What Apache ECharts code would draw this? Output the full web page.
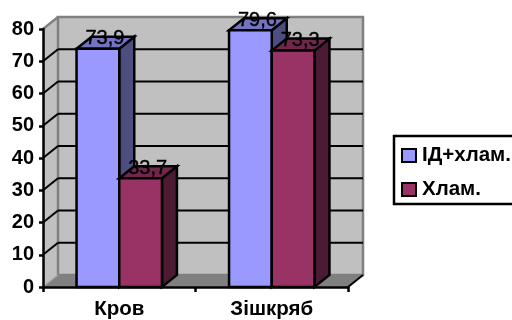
<!DOCTYPE html>
<html>
<head>
<meta charset="utf-8">
<script src="https://cdn.jsdelivr.net/npm/echarts@6/dist/echarts.min.js"></script>
<style>html,body{margin:0;padding:0;background:#fff;overflow:hidden}#c{width:512px;height:320px}</style>
</head>
<body>
<div id="c"></div>
<script>
const categories = ['Кров', 'Зішкряб'];
const seriesNames = ['ІД+хлам.', 'Хлам.'];
const idValues = [73.9, 79.6];
const junkValues = [33.7, 73.3];
const valueLabels = [['73,9', '79,6'], ['33,7', '73,3']];
const yTicks = [0, 10, 20, 30, 40, 50, 60, 70, 80];

// Faux-3D depth of the box and of each column, in pixels
const DX = 15, DY = -12;
const FONT = '"Liberation Sans", Arial, sans-serif';

function poly(points, fill, stroke, lineWidth) {
  return { type: 'polygon', shape: { points },
    style: { fill, stroke: stroke || null, lineWidth: lineWidth || 0 } };
}
function line(x1, y1, x2, y2, stroke, lineWidth) {
  return { type: 'line', shape: { x1, y1, x2, y2 }, style: { stroke, lineWidth } };
}

// Back wall, side wall, floor and the gridlines that run round them
function renderWalls(params, api) {
  const v = api.value(1);
  const cs = params.coordSys;
  const y = api.coord([0, v])[1];
  const x0 = cs.x, x1 = cs.x + cs.width, top = cs.y, bottom = cs.y + cs.height;
  const children = [];
  if (v === 0) {
    children.push(poly([[x0, top], [x0 + DX, top + DY], [x0 + DX, bottom + DY], [x0, bottom]], '#c0c0c0'));
    children.push(poly([[x0 + DX, top + DY], [x1 + DX, top + DY], [x1 + DX, bottom + DY], [x0 + DX, bottom + DY]], '#c0c0c0', '#808080', 2.5));
    children.push(poly([[x0, bottom], [x0 + DX, bottom + DY], [x1 + DX, bottom + DY], [x1, bottom]], '#808080'));
    children.push(line(x0, top, x0 + DX, top + DY, '#808080', 2.5));
    children.push(line(x0, bottom, x0 + DX, bottom + DY, '#a0a0a0', 1.5));
    children.push(line(x1, bottom, x1 + DX, bottom + DY, '#000', 2));
  } else if (v < 80) {
    children.push(line(x0, y, x0 + DX, y + DY, '#000', 2));
    children.push(line(x0 + DX, y + DY, x1 + DX, y + DY, '#000', 2));
  }
  return { type: 'group', children };
}

// One column: front face, lit top, shaded side, and its value text
function columnRenderer(offsetSign, front, topFace, side, labels) {
  return function (params, api) {
    const cat = api.value(0), val = api.value(1);
    const p = api.coord([cat, val]);
    const base = api.coord([cat, 0]);
    const w = api.size([1, 0])[0] * 0.28;
    const l = offsetSign < 0 ? p[0] - w : p[0];
    const r = l + w, t = p[1], b = base[1];
    const edge = '#000';
    return {
      type: 'group',
      children: [
        poly([[r, t], [r + DX, t + DY], [r + DX, b + DY], [r, b]], side, edge, 2.5),
        poly([[l, t], [l + DX, t + DY], [r + DX, t + DY], [r, t]], topFace, edge, 2.5),
        { type: 'rect', shape: { x: l, y: t, width: w, height: b - t },
          style: { fill: front, stroke: edge, lineWidth: 2.5 } },
        { type: 'text', z2: 50,
          style: { text: labels[params.dataIndex], x: (l + r) / 2 + 7, y: t - 10,
            align: 'center', verticalAlign: 'middle', fill: '#000',
            stroke: '#000', lineWidth: 0.4,
            font: '20px ' + FONT } }
      ]
    };
  };
}

const chart = echarts.init(document.getElementById('c'), null, { renderer: 'canvas' });
chart.setOption({
  animation: false,
  backgroundColor: '#fff',
  grid: { left: 43, top: 29, width: 305, height: 259 },
  legend: {
    data: seriesNames,
    orient: 'vertical',
    left: 394,
    top: 136,
    padding: [9, 20, 4, 7],
    itemGap: 13,
    itemWidth: 14,
    itemHeight: 13,
    borderColor: '#000',
    borderWidth: 2.5,
    backgroundColor: '#fff',
    selectedMode: false,
    icon: 'rect',
    textStyle: { fontFamily: FONT, fontWeight: 'bold', fontSize: 20.5, color: '#000', padding: [0, 0, 0, 1] }
  },
  xAxis: {
    type: 'category',
    data: categories,
    z: 10,
    axisLine: { lineStyle: { color: '#000', width: 2.5 } },
    axisTick: { show: true, length: 5, lineStyle: { color: '#000', width: 2.5 } },
    axisLabel: { color: '#000', fontFamily: FONT, fontWeight: 'bold', fontSize: 20.5, margin: 12 }
  },
  yAxis: {
    type: 'value',
    min: 0,
    max: 80,
    interval: 10,
    z: 10,
    splitLine: { show: false },
    axisLine: { show: true, lineStyle: { color: '#000', width: 2.5 } },
    axisTick: { show: true, length: 4, lineStyle: { color: '#000', width: 2.5 } },
    axisLabel: { color: '#000', fontFamily: FONT, fontWeight: 'bold', fontSize: 20, margin: 9 }
  },
  series: [
    {
      name: 'walls', type: 'custom', z: 1, silent: true,
      renderItem: renderWalls,
      encode: { x: 0, y: 1 },
      data: yTicks.map(t => [0, t])
    },
    {
      name: seriesNames[0], type: 'custom', z: 2, silent: true,
      itemStyle: { color: '#9999ff', borderColor: '#000', borderWidth: 2.5 },
      renderItem: columnRenderer(-1, '#9999ff', '#7373c0', '#4d4d80', valueLabels[0]),
      encode: { x: 0, y: 1 },
      data: idValues.map((v, i) => [i, v])
    },
    {
      name: seriesNames[1], type: 'custom', z: 3, silent: true,
      itemStyle: { color: '#993366', borderColor: '#000', borderWidth: 2.5 },
      renderItem: columnRenderer(1, '#993366', '#73264d', '#4d1a33', valueLabels[1]),
      encode: { x: 0, y: 1 },
      data: junkValues.map((v, i) => [i, v])
    }
  ]
});
</script>
</body>
</html>
